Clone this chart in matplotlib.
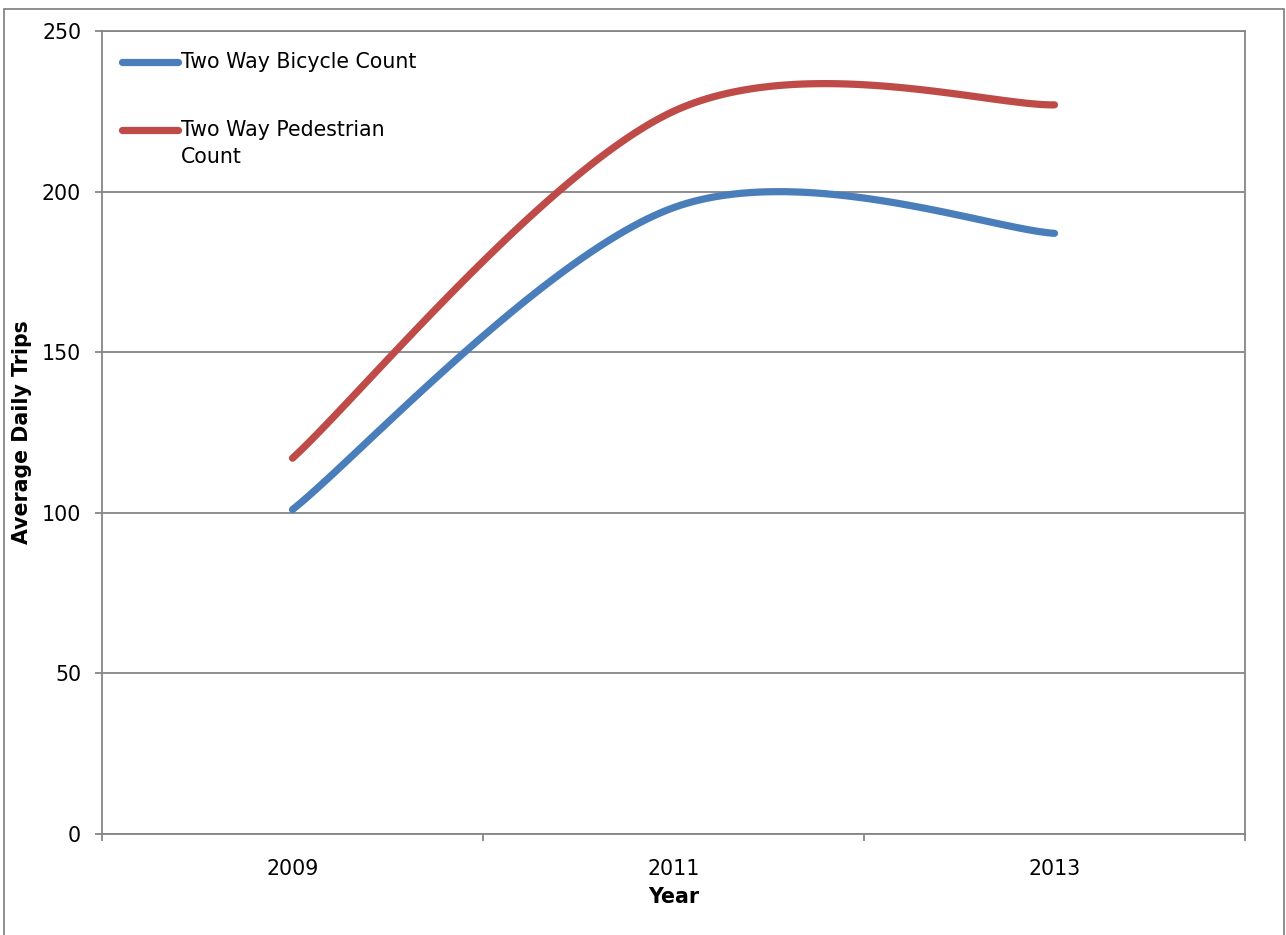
import numpy as np
import matplotlib
matplotlib.use("Agg")
import matplotlib.pyplot as plt
from matplotlib.lines import Line2D
from matplotlib.patches import Rectangle

# data
years = ["2009", "2011", "2013"]
bicycle = [101, 195, 187]
pedestrian = [117, 225, 227]

blue = "#4A7EBB"
red = "#BE4B48"
grey = "#868686"
fs = 14.8


def excel_smooth(y, n=60):
    # bezier smoothing like Excel's "smoothed line"
    x = np.arange(len(y), dtype=float)
    y = np.asarray(y, dtype=float)
    pts = np.column_stack([x, y])
    out = []
    for i in range(len(pts) - 1):
        p0 = pts[max(i - 1, 0)]
        p1 = pts[i]
        p2 = pts[i + 1]
        p3 = pts[min(i + 2, len(pts) - 1)]
        c1 = p1 + (p2 - p0) / 6
        c2 = p2 - (p3 - p1) / 6
        t = np.linspace(0, 1, n)[:, None]
        seg = ((1 - t) ** 3 * p1 + 3 * (1 - t) ** 2 * t * c1
               + 3 * (1 - t) * t ** 2 * c2 + t ** 3 * p2)
        out.append(seg if i == 0 else seg[1:])
    seg = np.vstack(out)
    return seg[:, 0], seg[:, 1]


fig = plt.figure(figsize=(12.86, 9.35), dpi=100)
ax = fig.add_axes([102 / 1286, (935 - 834) / 935, 1143 / 1286, 803 / 935])

for vals, col in [(bicycle, blue), (pedestrian, red)]:
    sx, sy = excel_smooth(vals)
    ax.plot(sx, sy, color=col, lw=5.2, solid_capstyle="round", zorder=3)

ax.set_xlim(-0.5, len(years) - 0.5)
ax.set_ylim(0, 250)
ax.set_yticks(np.arange(0, 251, 50))
ax.set_xticks(np.arange(-0.5, len(years), 1))
ax.set_xticklabels([])
ax.set_xticks(range(len(years)), minor=True)
ax.set_xticklabels(years, minor=True)

ax.grid(axis="y", color=grey, lw=1.3, zorder=1)
ax.set_axisbelow(True)
for s in ax.spines.values():
    s.set_color(grey)
    s.set_linewidth(1.3)

ax.tick_params(axis="both", which="major", direction="out", length=5,
               width=1.3, color=grey, labelsize=fs)
ax.tick_params(axis="y", pad=10)
ax.tick_params(axis="x", which="minor", length=0, pad=18, labelsize=fs)

ax.set_ylabel("Average Daily Trips", fontsize=fs, fontweight="bold")
ax.set_xlabel("Year", fontsize=fs, fontweight="bold")
ax.yaxis.set_label_coords(-80 / 1143, 0.5)
ax.yaxis.label.set_va("center")
ax.xaxis.set_label_coords(0.5, -63 / 803)
ax.xaxis.label.set_va("center")

# legend drawn inside the plot area, top left
leg_x0, leg_x1, leg_tx = 20 / 1143, 76 / 1143, 79 / 1143
for ypix, col, lines in [(62, blue, ["Two Way Bicycle Count"]),
                         (130, red, ["Two Way Pedestrian", "Count"])]:
    yf = (834 - ypix) / 803
    ax.add_line(Line2D([leg_x0, leg_x1], [yf, yf], transform=ax.transAxes,
                       color=col, lw=5.2, solid_capstyle="round"))
    for k, txt in enumerate(lines):
        ax.text(leg_tx, yf - k * 27 / 803, txt, transform=ax.transAxes,
                fontsize=fs, va="center", ha="left")

# outer chart border
fig.patches.append(Rectangle((4 / 1286, -0.02), 1280 / 1286, (926 / 935) + 0.02,
                             transform=fig.transFigure, fill=False,
                             edgecolor=grey, lw=1.3))

fig.savefig("out.png", dpi=100)
